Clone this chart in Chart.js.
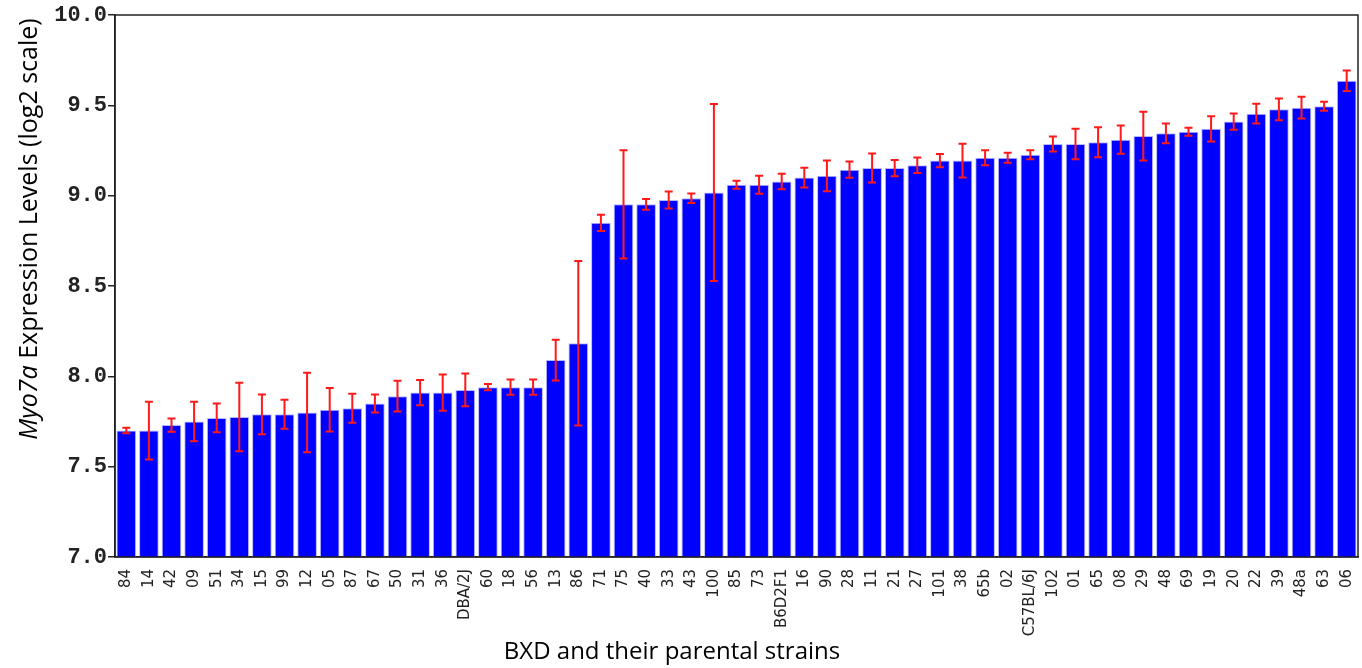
<!DOCTYPE html>
<html>
<head>
<meta charset="utf-8">
<script src="https://cdn.jsdelivr.net/npm/chart.js@4"></script>
<style>
  html, body { margin: 0; padding: 0; background: #fff; }
  #wrap { width: 1362px; height: 668px; position: relative; }
</style>
</head>
<body>
<div id="wrap"><canvas id="myChart"></canvas></div>
<script>
const strains = ['84', '14', '42', '09', '51', '34', '15', '99', '12', '05', '87', '67', '50', '31', '36', 'DBA/2J',
    '60', '18', '56', '13', '86', '71', '75', '40', '33', '43', '100', '85', '73', 'B6D2F1', '16', '90', '28', '11',
    '21', '27', '101', '38', '65b', '02', 'C57BL/6J', '102', '01', '65', '08', '29', '48', '69', '19', '20', '22',
    '39', '48a', '63', '06'];

const expression = [7.70, 7.70, 7.73, 7.75, 7.77, 7.775, 7.79, 7.79, 7.80, 7.815, 7.823, 7.85, 7.89, 7.91, 7.91, 7.925,
    7.94, 7.94, 7.94, 8.09, 8.183, 8.85, 8.952, 8.952, 8.976, 8.986, 9.017, 9.06, 9.06, 9.078, 9.10, 9.11, 9.144, 9.153,
    9.153, 9.168, 9.194, 9.194, 9.21, 9.21, 9.227, 9.286, 9.286, 9.296, 9.31, 9.33, 9.345, 9.354, 9.37, 9.41, 9.454,
    9.478, 9.487, 9.495, 9.636];

const stdErr = [0.015, 0.16, 0.037, 0.11, 0.08, 0.19, 0.11, 0.08, 0.22, 0.12, 0.08, 0.05, 0.085, 0.07, 0.10, 0.09,
    0.017, 0.042, 0.042, 0.113, 0.455, 0.045, 0.30, 0.03, 0.047, 0.026, 0.49, 0.022, 0.05, 0.043, 0.055, 0.085, 0.045,
    0.08, 0.045, 0.043, 0.037, 0.093, 0.042, 0.028, 0.025, 0.042, 0.085, 0.083, 0.078, 0.135, 0.055, 0.022, 0.07,
    0.045, 0.055, 0.06, 0.06, 0.025, 0.057];

const yTicks = [7.0, 7.5, 8.0, 8.5, 9.0, 9.5, 10.0];

// red error bars, drawn through the chart's own y scale
const errorBars = {
    id: 'errorBars',
    afterDatasetsDraw(chart) {
        const ctx = chart.ctx;
        const y = chart.scales.y;
        const meta = chart.getDatasetMeta(0);
        ctx.save();
        ctx.strokeStyle = '#ff1a1a';
        ctx.lineWidth = 2;
        meta.data.forEach((bar, i) => {
            const top = y.getPixelForValue(expression[i] + stdErr[i]);
            const bot = y.getPixelForValue(expression[i] - stdErr[i]);
            ctx.beginPath();
            ctx.moveTo(bar.x, top); ctx.lineTo(bar.x, bot);
            ctx.moveTo(bar.x - 4, top); ctx.lineTo(bar.x + 4, top);
            ctx.moveTo(bar.x - 4, bot); ctx.lineTo(bar.x + 4, bot);
            ctx.stroke();
        });
        ctx.restore();
    }
};

// box around the plot and the two axis titles
const frameAndTitles = {
    id: 'frameAndTitles',
    afterDraw(chart) {
        const ctx = chart.ctx;
        const a = chart.chartArea;
        ctx.save();
        ctx.strokeStyle = '#222';
        ctx.lineWidth = 1.5;
        ctx.strokeRect(a.left, a.top, a.right - a.left, a.bottom - a.top);

        ctx.fillStyle = '#000';
        ctx.textBaseline = 'middle';
        ctx.textAlign = 'center';
        ctx.font = '24px "Open Sans"';
        ctx.fillText('BXD and their parental strains', 672, 652);

        // y title, "Myo7a" in italic
        ctx.translate(30, 229);
        ctx.rotate(-Math.PI / 2);
        const it = 'italic 25px "Open Sans"';
        const rest = '25px "Open Sans"';
        ctx.font = it;
        const w1 = ctx.measureText('Myo7a').width;
        ctx.font = rest;
        const w2 = ctx.measureText(' Expression Levels (log2 scale)').width;
        let x0 = -(w1 + w2) / 2;
        ctx.textAlign = 'left';
        ctx.font = it;
        ctx.fillText('Myo7a', x0, 0);
        ctx.font = rest;
        ctx.fillText(' Expression Levels (log2 scale)', x0 + w1, 0);
        ctx.restore();
    }
};

const data = {
    labels: strains,
    datasets: [{
        label: 'Myo7a',
        data: expression,
        backgroundColor: '#0000ff',
        borderColor: '#b8b8ff',
        borderWidth: 1,
        barPercentage: 0.87,
        categoryPercentage: 1.0
    }]
};

const config = {
    type: 'bar',
    data: data,
    options: {
        responsive: true,
        maintainAspectRatio: false,
        animation: false,
        layout: { padding: { top: 15, right: 4, left: 0, bottom: 0 } },
        plugins: {
            legend: { display: false },
            tooltip: { enabled: false }
        },
        scales: {
            x: {
                grid: { display: false },
                border: { display: true, color: '#222', width: 1.5 },
                ticks: {
                    autoSkip: false,
                    minRotation: 90,
                    maxRotation: 90,
                    padding: 4,
                    color: '#222',
                    font: { family: 'DejaVu Sans', size: 15 }
                },
                afterFit(scale) {
                    scale.height = 111;
                    scale.paddingLeft = 0;
                    scale.paddingRight = 0;
                }
            },
            y: {
                min: 7.0,
                max: 10.0,
                afterBuildTicks(scale) { scale.ticks = yTicks.map(v => ({ value: v })); },
                grid: { drawOnChartArea: false, drawTicks: true, tickLength: 7, color: '#222', lineWidth: 1.5 },
                border: { display: true, color: '#222', width: 1.5 },
                ticks: {
                    padding: 1,
                    color: '#222',
                    font: { family: 'Liberation Mono', size: 22, weight: 'bold' },
                    callback: v => Number(v).toFixed(1)
                },
                afterFit(scale) { scale.width = 115; }
            }
        }
    },
    plugins: [errorBars, frameAndTitles]
};

const myChart = new Chart(
    document.getElementById('myChart'),
    config);
</script>
</body>
</html>
